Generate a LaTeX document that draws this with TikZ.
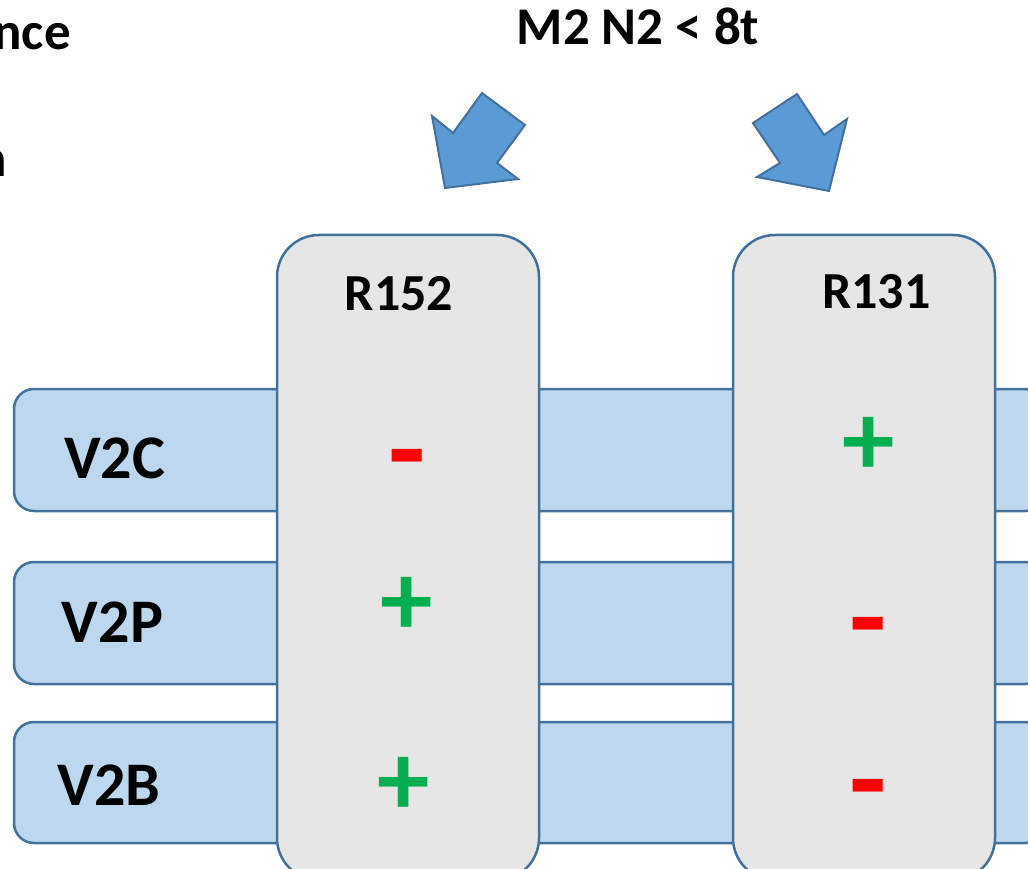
\documentclass[tikz,border=0pt]{standalone}
\usepackage{fontspec}
\setmainfont{Carlito}
\definecolor{barfill}{HTML}{BDD7EE}
\definecolor{edge}{HTML}{41719C}
\definecolor{boxfill}{HTML}{E6E6E6}
\definecolor{arrowfill}{HTML}{5B9BD5}
\definecolor{pgreen}{HTML}{00B050}
\definecolor{mred}{HTML}{FF0000}
\tikzset{
  bar/.style={draw=edge, fill=barfill, line width=2.5pt, rounded corners=20pt, inner sep=0pt, minimum width=1031pt, minimum height=122pt},
  colbox/.style={draw=edge, fill=boxfill, line width=2.5pt, rounded corners=42pt, inner sep=0pt, minimum width=262pt, minimum height=645pt},
  blockarrow/.style={draw=edge, fill=arrowfill, line width=2pt, line join=miter},
  rowlabel/.style={font=\bfseries\fontsize{62}{70}\selectfont, anchor=base, inner sep=0pt},
  collabel/.style={font=\bfseries\fontsize{52}{60}\selectfont, anchor=base, inner sep=0pt},
  toplabel/.style={font=\bfseries\fontsize{53}{60}\selectfont, inner sep=0pt},
  plussign/.style={font=\bfseries\fontsize{105}{115}\selectfont, text=pgreen, inner sep=0pt},
  minussign/.style={font=\bfseries\fontsize{122}{130}\selectfont, text=mred, inner sep=0pt}
}
\begin{document}
\begin{tikzpicture}[x=1pt, y=-1pt]
\useasboundingbox (0,0) rectangle (1028,869);
\clip (0,0) rectangle (1028,869);
% horizontal bars
\node[bar] (v2cbar) at (529.5,450) {};
\node[bar] (v2pbar) at (529.5,623) {};
\node[bar, minimum height=121pt] (v2bbar) at (529.5,782.5) {};
% vertical boxes
\node[colbox] (r152box) at (408,557.5) {};
\node[colbox] (r131box) at (864,557.5) {};
% labels
\node[rowlabel] (v2c) at (114.5,478) {V2C};
\node[rowlabel] (v2p) at (112.5,642) {V2P};
\node[rowlabel] (v2b) at (109,805) {V2B};
\node[collabel] (r152) at (399,310) {R152};
\node[collabel] (r131) at (876.5,308) {R131};
\node[toplabel, anchor=base] (title) at (638,45) {M2 N2 < 8t};
\node[toplabel, anchor=base east] (cut1) at (71,50) {nce};
\node[toplabel, anchor=base east] (cut2) at (7,177) {n};
% signs
\node[minussign] (s11) at (407.5,469.5) {-};
\node[plussign] (s12) at (868.3,446.8) {+};
\node[plussign] (s21) at (406.8,606.8) {+};
\node[minussign] (s22) at (868,637.5) {-};
\node[plussign] (s31) at (403.3,786.8) {+};
\node[minussign] (s32) at (868,799.5) {-};
% block arrows
\draw[blockarrow] (445,188) -- (432,116) -- (453,133) -- (482,93) -- (525,125) -- (497,163) -- (518,179) -- cycle;
\draw[blockarrow] (829,191) -- (757,177) -- (780,163) -- (753,123) -- (797,94) -- (824,135) -- (847,119) -- cycle;
\end{tikzpicture}
\end{document}
